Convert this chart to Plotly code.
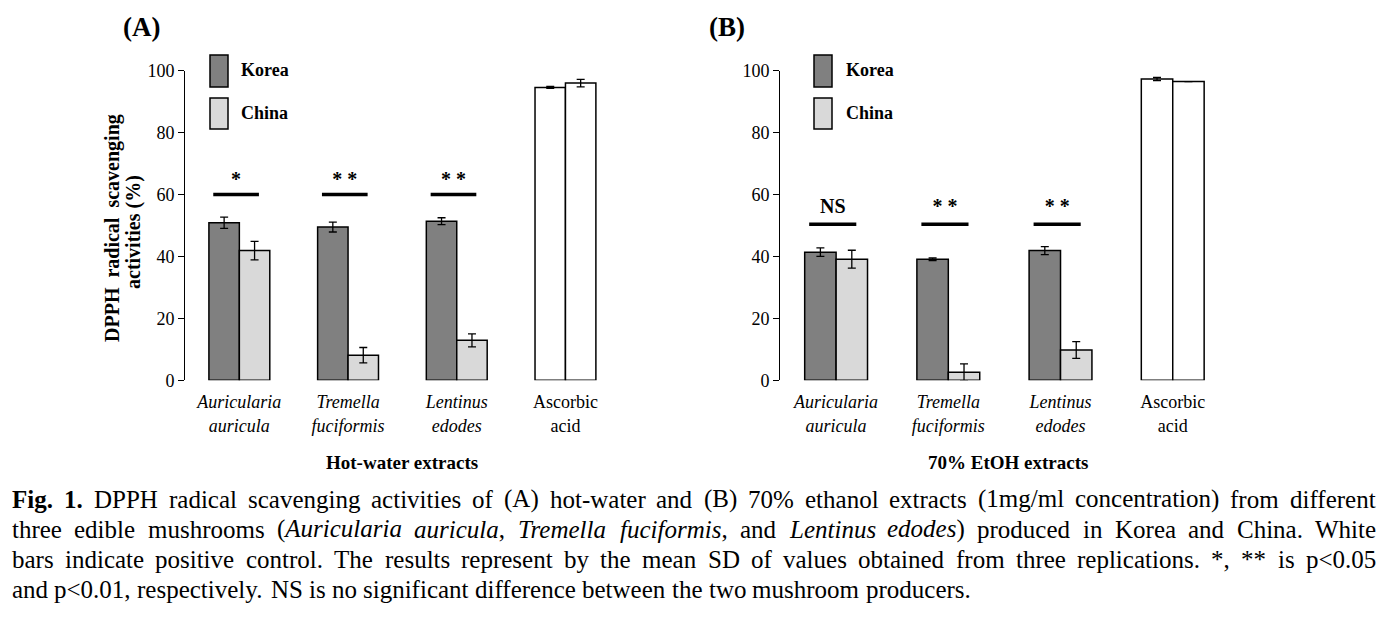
import re

import plotly.graph_objects as go

W, H = 1391, 619
FONT = "Liberation Serif"
PAGE_PAD = 8  # the html body margin moves the whole figure by this much

# ---- data -------------------------------------------------------------
tick_text = [
    "<i>Auricularia</i><br><i>auricula</i>",
    "<i>Tremella</i><br><i>fuciformis</i>",
    "<i>Lentinus</i><br><i>edodes</i>",
    "Ascorbic<br>acid",
]

# (A) hot-water extracts
korea_a = [50.9, 49.5, 51.4]
korea_a_sd = [1.8, 1.6, 1.1]
china_a = [41.9, 8.1, 12.9]
china_a_sd = [3.0, 2.5, 2.1]
ascorbic_a = [94.6, 96.0]
ascorbic_a_sd = [0.3, 1.2]
sig_a = ["*", "* *", "* *"]

# (B) 70% EtOH extracts
korea_b = [41.4, 39.1, 41.9]
korea_b_sd = [1.4, 0.4, 1.3]
china_b = [39.1, 2.6, 9.8]
china_b_sd = [2.9, 2.7, 2.7]
ascorbic_b = [97.3, 96.5]
ascorbic_b_sd = [0.5, 0.0]
sig_b = ["NS", "* *", "* *"]

sig_line_a, sig_text_a = 60, 64.5
sig_line_b, sig_text_b = 50.4, 55.8

y_ticks = [0, 20, 40, 60, 80, 100]

caption_lines = [
    "<b>Fig.</b> <b>1.</b> DPPH radical scavenging activities of (A) hot-water and (B) 70% ethanol extracts "
    "(1mg/ml concentration) from different",
    "three edible mushrooms (<i>Auricularia</i> <i>auricula</i>, <i>Tremella</i> <i>fuciformis</i>, and "
    "<i>Lentinus</i> <i>edodes</i>) produced in Korea and China. White",
    "bars indicate positive control. The results represent by the mean  SD of values obtained from three "
    "replications. *, ** is p&lt;0.05",
    "and p&lt;0.01, respectively. NS is no significant difference between the two mushroom producers.",
]

KOREA = "#808080"
CHINA = "#d9d9d9"
BAR_W = 0.28

# Times-compatible advance widths (1/1000 em), used to justify the caption
_W = {c: w for c, w in zip("ABCDEFGHIJKLMNOPQRSTUVWXYZ",
                           [722, 667, 667, 722, 611, 556, 722, 722, 333, 389, 722, 611, 889,
                            722, 722, 556, 722, 667, 556, 611, 722, 722, 944, 722, 722, 611])}
_W.update({c: w for c, w in zip("abcdefghijklmnopqrstuvwxyz",
                                [444, 500, 444, 500, 444, 333, 500, 500, 278, 278, 500, 278, 778,
                                 500, 500, 500, 500, 333, 389, 278, 500, 500, 722, 500, 500, 444])})
_W.update({d: 500 for d in "0123456789"})
_W.update({" ": 250, "(": 333, ")": 333, "*": 500, ",": 250, "-": 333, ".": 250, "/": 278,
           "%": 833, "<": 564})
_ITALIC = {"a": 500, "f": 278, "k": 444, "m": 722, "r": 389, "v": 444, "w": 667, "x": 444,
           "y": 444, "z": 389, "A": 611, "L": 556, "T": 556}
_BOLD = {"F": 611}


def word_width(word, size):
    italic = bold = False
    total = 0
    for tok in re.findall(r"</?[ib]>|&lt;|.", word):
        if tok in ("<i>", "</i>"):
            italic = tok == "<i>"
        elif tok in ("<b>", "</b>"):
            bold = tok == "<b>"
        else:
            ch = "<" if tok == "&lt;" else tok
            w = _W.get(ch, 500)
            if italic:
                w = _ITALIC.get(ch, w)
            if bold:
                w = _BOLD.get(ch, w)
            total += w
    return total * size / 1000


def px(x):
    return (x - PAGE_PAD) / W


def py(y):
    return 1 - (y - PAGE_PAD) / H


def add_panel(fig, xa, ya, korea, korea_sd, china, china_sd, asc, asc_sd, sig, sig_y, sig_ty):
    idx = list(range(len(korea)))
    err = dict(type="data", color="black", thickness=1.3, width=4)
    line = dict(color="black", width=1.5)
    fig.add_trace(go.Bar(x=idx, y=korea, width=BAR_W, offset=-BAR_W, marker=dict(color=KOREA, line=line),
                         error_y=dict(array=korea_sd, **err), xaxis=xa, yaxis=ya, name="Korea"))
    fig.add_trace(go.Bar(x=idx, y=china, width=BAR_W, offset=0, marker=dict(color=CHINA, line=line),
                         error_y=dict(array=china_sd, **err), xaxis=xa, yaxis=ya, name="China"))
    for k, off in enumerate([-BAR_W, 0]):
        fig.add_trace(go.Bar(x=[3], y=[asc[k]], width=BAR_W, offset=off, marker=dict(color="white", line=line),
                             error_y=dict(array=[asc_sd[k]], **err), xaxis=xa, yaxis=ya, name="Ascorbic acid"))
    # significance bars
    lx, ly = [], []
    for i in idx:
        lx += [i - 0.03 - 0.21, i - 0.03 + 0.21, None]
        ly += [sig_y, sig_y, None]
    fig.add_trace(go.Scatter(x=lx, y=ly, mode="lines", line=dict(color="black", width=3.5),
                             xaxis=xa, yaxis=ya, hoverinfo="skip"))
    fig.add_trace(go.Scatter(x=[i - 0.03 for i in idx], y=[sig_ty] * len(idx), mode="text", text=sig,
                             textfont=dict(family=FONT, size=20, color="black", weight="bold"),
                             xaxis=xa, yaxis=ya, hoverinfo="skip"))


fig = go.Figure()
add_panel(fig, "x", "y", korea_a, korea_a_sd, china_a, china_a_sd, ascorbic_a, ascorbic_a_sd,
          sig_a, sig_line_a, sig_text_a)
add_panel(fig, "x2", "y2", korea_b, korea_b_sd, china_b, china_b_sd, ascorbic_b, ascorbic_b_sd,
          sig_b, sig_line_b, sig_text_b)

xcommon = dict(range=[-0.5, 3.35], showline=False, showgrid=False, zeroline=False, ticks="",
               tickvals=[0, 1, 2, 3], ticktext=tick_text, ticklabelstandoff=9, automargin=False,
               tickfont=dict(family=FONT, size=18, color="black"), fixedrange=True)
ycommon = dict(range=[0, 100], domain=[py(380.3), py(70.7)], showline=True, linecolor="black", linewidth=1,
               showgrid=False, zeroline=False, ticks="outside", ticklen=6, tickcolor="black", automargin=False,
               tickvals=y_ticks, tickfont=dict(family=FONT, size=18, color="black"), fixedrange=True)

fig.update_layout(
    width=W, height=H,
    margin=dict(l=0, r=0, t=0, b=0, pad=0, autoexpand=False),
    paper_bgcolor="white", plot_bgcolor="white",
    showlegend=False, barmode="overlay",
    xaxis=dict(domain=[px(185), px(603.5)], anchor="y", **xcommon),
    yaxis=dict(anchor="x", **ycommon),
    xaxis2=dict(domain=[px(780), px(1212)], anchor="y2", **xcommon),
    yaxis2=dict(anchor="x2", **ycommon),
)

ann = []


def text(x, y, s, size, bold=False, xanchor="center", angle=0):
    ann.append(dict(x=px(x), y=py(y), xref="paper", yref="paper", text=s, showarrow=False,
                    xanchor=xanchor, yanchor="middle", textangle=angle, borderpad=0, borderwidth=0,
                    font=dict(family=FONT, size=size, color="black", weight="bold" if bold else "normal")))


# panel labels, axis titles
text(141, 27, "(A)", 27, bold=True)
text(727, 27, "(B)", 27, bold=True)
text(402, 462, "Hot-water extracts", 19, bold=True)
text(1008, 462, "70% EtOH extracts", 19, bold=True)
text(112, 228, "DPPH&nbsp; radical&nbsp; scavenging", 20, bold=True, angle=-90)
text(133, 232, "activities (%)", 20, bold=True, angle=-90)

# legends (drawn as swatches)
shapes = []
for bx, tx in [(210, 241), (814, 846)]:
    for (y0, y1), color, label in [((55, 87), KOREA, "Korea"), ((98, 129), CHINA, "China")]:
        shapes.append(dict(type="rect", xref="paper", yref="paper", x0=px(bx), x1=px(bx + 18),
                           y0=py(y1), y1=py(y0), fillcolor=color, line=dict(color="black", width=1.5)))
        text(tx, (y0 + y1) / 2 - 1, label, 18, bold=True, xanchor="left")
fig.update_layout(shapes=shapes)

# caption: justified lines, the last one ragged
CAP_SIZE = 25
CAP_LEFT, CAP_RIGHT = 12, 1376
CAP_Y = [499, 529, 559, 589]
for n, (line, y) in enumerate(zip(caption_lines, CAP_Y)):
    words = line.split()
    widths = [word_width(w, CAP_SIZE) for w in words]
    if n < len(caption_lines) - 1:
        gap = (CAP_RIGHT - CAP_LEFT - sum(widths)) / (len(words) - 1)
    else:
        gap = 0.25 * CAP_SIZE
    x = CAP_LEFT
    for w, wd in zip(words, widths):
        text(x, y, w, CAP_SIZE, xanchor="left")
        x += wd + gap

fig.update_layout(annotations=ann)

fig.write_html("out.html")
